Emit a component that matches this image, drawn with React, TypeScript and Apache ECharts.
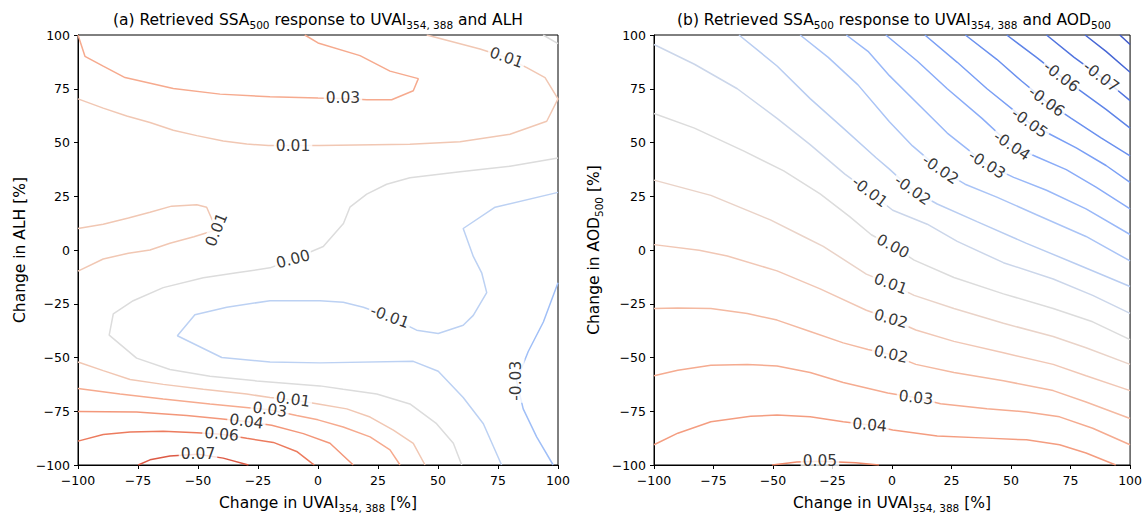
import React, { useEffect, useRef } from 'react';
import * as echarts from 'echarts';

const FONT = 'DejaVu Sans';

// shared axis ticks (percent change)
const AXIS_MIN = -100;
const AXIS_MAX = 100;
const AXIS_STEP = 25;

// ---------- Panel (a): SSA500 response to UVAI and ALH ----------
const a003Top = [[-100,100],[-97.1,90.1],[-89.5,85.5],[-80.4,80.2],[-60.3,75.1],[-40.8,72.5],[-20,71.3],[0,70.7],[10.4,70.5],[20.4,69.9],[30.7,69.9],[39.7,74.1],[41.8,79.7],[30,83.2],[17.5,90.4],[0,96.3],[-5.5,100]];
const a001Top = [[-100,70.3],[-89.5,66],[-79.7,62.3],[-70,59.3],[-60.3,55.7],[-50.5,53.2],[-39.5,50.7],[-29.7,49.3],[-20.7,48.6],[-10.4,48.6],[0.5,48.6],[38.3,49.2],[59.2,50.4],[80,53.8],[95.3,59.9],[100,70.3],[94.6,80.2],[87,84.8],[78.5,89.5],[67.5,93.5],[45.3,100]];
const a000Corner = [[93.8,100],[100,96]];
const a000 = [[100,42.8],[80,39],[59.2,36.4],[38.3,33.6],[28.6,30.6],[20.3,26],[13.3,19.9],[10.6,12.3],[2.2,1.6],[-10.4,-4.3],[-20,-8.3],[-33.9,-10.6],[-47.8,-12.9],[-64.5,-17.5],[-77,-23.6],[-85.3,-29.7],[-87,-39.6],[-75.6,-50.3],[-61.7,-55.6],[-45,-58.7],[-25.5,-60.9],[0.8,-63.2],[10.5,-64.8],[24.5,-67],[38.3,-71.6],[49.4,-80.8],[56.4,-89.9],[59.9,-100]];
const am001 = [[76.5,-100],[68.9,-80.8],[60.5,-68.6],[50.1,-56.4],[39.7,-51.8],[0.8,-52.5],[-20,-52.1],[-40.1,-50],[-58.6,-39.9],[-51.3,-30.1],[-38,-26.6],[-20,-23.6],[0.8,-23.6],[10.5,-24.3],[18.9,-26.6],[29.9,-31.1],[41.1,-37.3],[50.1,-38.8],[60.5,-35],[64.7,-30.4],[70.3,-19.8],[68.2,-10.6],[64.7,-3],[60.5,10],[73.8,19.9],[100,26.8]];
const am003 = [[100,-15.2],[93.9,-33.5],[87.6,-47.2],[82.7,-60.8],[85.5,-73.9],[91.1,-86.9],[98,-100]];
const a001Mid = [[-100,10],[-89.5,12],[-79,14.9],[-70,17.6],[-61,20.4],[-50.5,21],[-46.4,19.9],[-42.3,9.4],[-51.7,6.2],[-61.7,3.1],[-70,0],[-79,-1.5],[-89.5,-4.2],[-100,-9.8]];
const a001Low = [[-100,-52.1],[-89.5,-56.1],[-78.3,-60.2],[-64.5,-62.5],[-47.8,-64.8],[-29.7,-67],[-20,-68.6],[-10.4,-69.6],[0.1,-71.6],[12,-73.9],[21.7,-77.7],[31.4,-83.8],[39.7,-89.9],[44.6,-100]];
const a003Low = [[-100,-64.4],[-82.5,-67],[-64.5,-69.3],[-45,-71.6],[-31.1,-73.1],[-20.1,-74.3],[-8.9,-77],[0,-79],[10.5,-82.3],[21.7,-86.9],[30,-93],[34.2,-100]];
const a004 = [[-100,-75.1],[-75.6,-75.4],[-54.7,-77],[-40.8,-78.5],[-29.8,-79.8],[-19.3,-81.5],[-6.1,-85.4],[5,-89.9],[14.7,-100]];
const a006 = [[-100,-88.9],[-89.5,-85.8],[-78.3,-84.6],[-64.5,-84.3],[-50.5,-85],[-40.2,-85.7],[-29.7,-87.6],[-18.6,-89.5],[-8.9,-93.7],[-2.6,-99.1],[-1.5,-100]];
const a007 = [[-74.9,-100],[-70,-97.6],[-61.7,-95.8],[-50,-95],[-39.5,-96.8],[-29,-100]];

// contour labels: [text, x, y, rotation]
const labelsA: [string, number, number, number][] = [
  ['0.03', 10.4, 70.5, 0],
  ['0.01', -10.4, 48.6, 0],
  ['0.01', 78.5, 89.5, -20],
  ['0.01', -42.3, 9.4, 68],
  ['0.00', -10.4, -4.3, 15],
  ['-0.01', 29.9, -31.1, -20],
  ['-0.03', 82.7, -60.8, 90],
  ['0.01', -10.4, -69.6, -8],
  ['0.03', -20.1, -74.3, -8],
  ['0.04', -29.8, -79.8, -8],
  ['0.06', -40.2, -85.7, -5],
  ['0.07', -50, -95, 0],
];

// ---------- Panel (b): SSA500 response to UVAI and AOD500 ----------
const b005 = [[-50.4,-100],[-40,-98.6],[-30.3,-98.2],[-15.3,-99],[-5.5,-100]];
const b004 = [[-100,-90.6],[-90,-85.2],[-76.1,-79.9],[-59.4,-77.3],[-48.3,-76.8],[-34.4,-77.6],[-20.5,-79.9],[-9.4,-81.4],[0.3,-83.7],[19,-86.5],[39.9,-87.5],[56.5,-88.3],[70.4,-90.6],[81.5,-94.4],[94,-100]];
const b003 = [[-100,-58.5],[-90,-55.9],[-76.1,-53.6],[-60.8,-53.2],[-48.3,-54],[-34.4,-57],[-20.5,-61.6],[-1.8,-66.5],[10,-68.7],[20.4,-71.5],[39.9,-73.8],[56.5,-75.3],[70.4,-77.6],[84.3,-82.9],[100,-90.6]];
const b002Low = [[-100,-27.2],[-90,-27],[-76.1,-27.2],[-60.8,-29.5],[-48.3,-32.6],[-34.4,-37.9],[-20.5,-43.2],[-10.1,-46.3],[-0.5,-48.6],[10,-53.2],[26,-57],[46.8,-60.8],[67.7,-65.4],[81.5,-70.7],[100,-78.4]];
const b002Up = [[-100,2.5],[-81,-0.1],[-69.2,-2.8],[-48.3,-9.7],[-30.2,-18.1],[-10.8,-28],[-0.5,-32.1],[10,-37.2],[26,-42.5],[46.8,-47.8],[67.7,-53.2],[81.5,-58.5],[100,-65.4]];
const b001 = [[-100,32.5],[-76.1,25.4],[-51.1,14],[-37.2,6.3],[-28.9,1.7],[-10.8,-11.2],[-0.6,-15.8],[9.3,-21.1],[26,-27.2],[46.8,-34.1],[67.7,-40.2],[81.5,-45.5],[100,-53.2]];
const b000 = [[-100,63.5],[-83,56.7],[-62.2,46],[-45.5,36.8],[-30.2,26.1],[-17.8,15.5],[-8.7,7.1],[0.3,1.7],[9.3,-4.7],[26,-12.8],[46.8,-20.4],[67.7,-27.2],[84.3,-33.4],[100,-41.7]];
const bm001 = [[-100,95.6],[-83,86.4],[-65,75],[-48.3,61.2],[-34.4,49],[-19.8,35.3],[-9.4,26.9],[0.3,18.5],[14.8,12],[27.4,4],[46.8,-5.9],[67.7,-13.5],[84.3,-21.1],[100,-29.5]];
const bm002Low = [[-64.3,100],[-48.3,85.6],[-34.4,70.4],[-20.5,56.7],[-6.7,42.9],[-1.1,37.6],[8.6,27.8],[19,21.4],[35.7,13.2],[56.5,3.1],[77.4,-6.5],[100,-17]];
const bm002Up = [[-38.6,100],[-26.8,89.6],[-14.3,76.8],[-1.1,59.7],[8.6,48.4],[20.3,37.4],[30.7,30.6],[44,24.6],[60.7,16.4],[81.5,6.3],[100,-5.1]];
const bm003 = [[-19.2,100],[-10.1,92.4],[-1.1,81.1],[10.7,68.1],[23.2,54.4],[39.9,39.7],[51.1,33.8],[64.9,27.8],[81.5,19.1],[100,7.2]];
const bm004 = [[-2.6,100],[10.7,87.8],[23.2,75],[37.8,61.2],[50.3,48.4],[60.7,43.4],[73.2,37.4],[85.7,29.2],[100,19.1]];
const bm005 = [[13.8,100],[27.4,87.3],[39.9,75],[57.8,59],[67,53.5],[77.4,47.5],[89.9,39.3],[100,31.5]];
const bm006Low = [[30.8,100],[44,88.7],[54.4,78.6],[64.9,69],[75.3,61.2],[87.8,52.1],[100,43.8]];
const bm006Up = [[48.2,100],[60.7,89.6],[71.1,80.5],[81.5,72.2],[89.9,65.4],[100,56.7]];
const bm007 = [[64.9,100],[76.5,89.6],[87.8,80.5],[94,75],[100,69.5]];
const bm008 = [[81.1,100],[89.9,92.4],[100,82.7]];
const bm009 = [[95.7,100],[100,95.6]];

const labelsB: [string, number, number, number][] = [
  ['-0.07', 87.8, 80.5, -37],
  ['-0.06', 71.1, 80.5, -37],
  ['-0.06', 64.9, 69, -36],
  ['-0.05', 57.8, 59, -35],
  ['-0.04', 50.3, 48.4, -34],
  ['-0.03', 39.9, 39.7, -32],
  ['-0.02', 20.3, 37.4, -34],
  ['-0.02', 8.6, 27.8, -35],
  ['-0.01', -9.4, 26.9, -37],
  ['0.00', 0.3, 1.7, -28],
  ['0.01', -0.6, -15.8, -20],
  ['0.02', -0.5, -32.1, -16],
  ['0.02', -0.5, -48.6, -13],
  ['0.03', 10, -68.7, -6],
  ['0.04', -9.4, -81.4, -5],
  ['0.05', -30.3, -98.2, 0],
];

const contoursA: [number[][], string][] = [
  [a007, '#dd5a45'], [a006, '#ec7b5e'], [a004, '#f3977a'], [a003Low, '#f6aa8e'],
  [a003Top, '#f6aa8e'], [a001Low, '#f1c7b3'], [a001Top, '#f1c7b3'], [a001Mid, '#f1c7b3'],
  [a000, '#dcdcdc'], [a000Corner, '#dcdcdc'], [am001, '#bcd1f3'], [am003, '#a0bff7'],
];
const contoursB: [number[][], string][] = [
  [b005, '#f08b6c'], [b004, '#f49d80'], [b003, '#f5ab90'], [b002Low, '#f4b9a1'],
  [b002Up, '#f1c7b5'], [b001, '#ead3c8'], [b000, '#dcdcdc'], [bm001, '#cbd6ea'],
  [bm002Low, '#b9cdf1'], [bm002Up, '#aac4f6'], [bm003, '#99b8f8'], [bm004, '#8aacf8'],
  [bm005, '#7a9ff5'], [bm006Low, '#6b91ef'], [bm006Up, '#5e84e8'], [bm007, '#5174df'],
  [bm008, '#4666d5'], [bm009, '#3c57ca'],
];

const subRich = {
  s: { fontSize: 10.5, fontFamily: FONT, color: '#000', padding: [9, 0, 0, 0] },
};

const tickFmt = (v: number) => (v < 0 ? '\u2212' + Math.abs(v) : String(v));

function makeAxes(gi: number, yName: string) {
  const common = {
    gridIndex: gi,
    type: 'value' as const,
    min: AXIS_MIN,
    max: AXIS_MAX,
    interval: AXIS_STEP,
    splitLine: { show: false },
    axisLine: { show: true, onZero: false, lineStyle: { color: '#000', width: 1 } },
    axisTick: { show: true, length: 4, lineStyle: { color: '#000', width: 1 } },
    axisLabel: { color: '#000', fontSize: 12.5, fontFamily: FONT, formatter: tickFmt },
    nameLocation: 'middle' as const,
  };
  const x = {
    ...common,
    axisLabel: { ...common.axisLabel, margin: 9 },
    name: 'Change in UVAI{s|354, 388} [%]',
    nameGap: 28,
    nameTextStyle: { fontSize: 15.5, color: '#000', fontFamily: FONT, rich: subRich },
  };
  const y = {
    ...common,
    axisLabel: { ...common.axisLabel, margin: 8 },
    name: yName,
    nameGap: 50,
    nameRotate: 90,
    nameTextStyle: { fontSize: 15.5, color: '#000', fontFamily: FONT, rich: subRich },
  };
  return { x, y };
}

function lineSeries(pts: number[][], color: string, gi: number) {
  return {
    type: 'line',
    xAxisIndex: gi,
    yAxisIndex: gi,
    data: pts,
    symbol: 'none',
    showSymbol: false,
    silent: true,
    lineStyle: { color, width: 1.5 },
    z: 2,
  };
}

function labelSeries(labels: [string, number, number, number][], gi: number) {
  return {
    type: 'scatter',
    xAxisIndex: gi,
    yAxisIndex: gi,
    symbolSize: 1,
    silent: true,
    z: 5,
    itemStyle: { color: 'rgba(0,0,0,0)' },
    data: labels.map(([t, x, y, r]) => ({ name: t, value: [x, y], label: { rotate: r } })),
    label: {
      show: true,
      position: 'inside',
      formatter: '{b}',
      color: '#000',
      fontSize: 15.5,
      fontFamily: FONT,
      backgroundColor: '#fff',
      padding: [0, 2],
    },
  };
}

export default function App() {
  const ref = useRef<HTMLDivElement>(null);
  useEffect(() => {
    if (!ref.current) return;
    const chart = echarts.init(ref.current, undefined, { renderer: 'svg' });
    const axA = makeAxes(0, 'Change in ALH [%]');
    const axB = makeAxes(1, 'Change in AOD{s|500} [%]');
    const titleStyle = { fontSize: 15.5, fontWeight: 'normal' as const, color: '#000', fontFamily: FONT, rich: subRich };
    chart.setOption({
      animation: false,
      backgroundColor: '#fff',
      title: [
        { text: '(a) Retrieved SSA{s|500} response to UVAI{s|354, 388} and ALH', left: 318, top: 10, textAlign: 'center', padding: 0, textStyle: titleStyle },
        { text: '(b) Retrieved SSA{s|500} response to UVAI{s|354, 388} and AOD{s|500}', left: 894, top: 10, textAlign: 'center', padding: 0, textStyle: titleStyle },
      ],
      grid: [
        { left: 78, top: 35, width: 480, height: 437, show: true, borderColor: '#000', borderWidth: 1, backgroundColor: 'transparent' },
        { left: 654, top: 35, width: 480, height: 437, show: true, borderColor: '#000', borderWidth: 1, backgroundColor: 'transparent' },
      ],
      xAxis: [axA.x, axB.x],
      yAxis: [axA.y, axB.y],
      series: [
        ...contoursA.map(([p, c]) => lineSeries(p, c, 0)),
        ...contoursB.map(([p, c]) => lineSeries(p, c, 1)),
        labelSeries(labelsA, 0),
        labelSeries(labelsB, 1),
      ],
    });
    return () => chart.dispose();
  }, []);
  return <div ref={ref} style={{ position: 'absolute', left: 0, top: 0, width: 1145, height: 518 }} />;
}
